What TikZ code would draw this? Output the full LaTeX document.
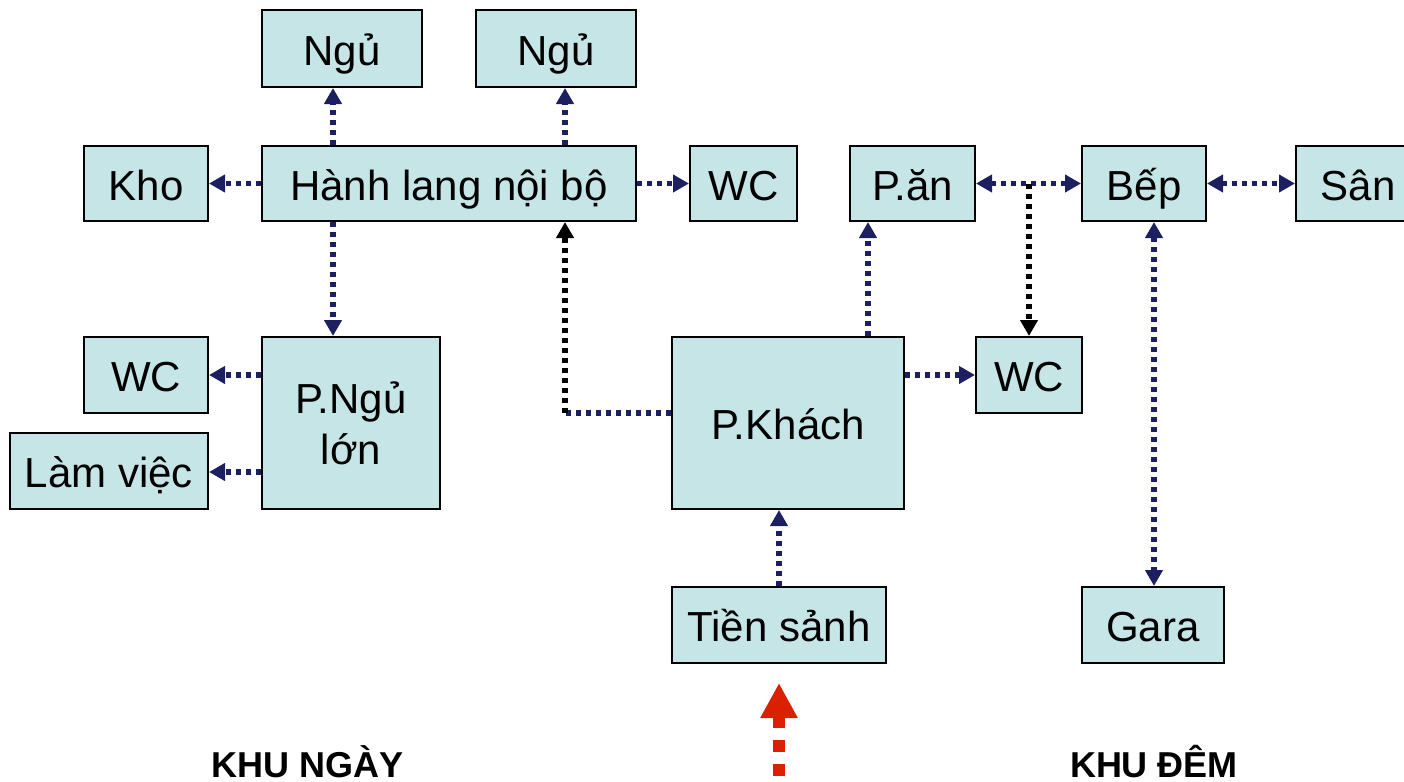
\documentclass[tikz,border=0pt]{standalone}
\usepackage{fontspec}
\setmainfont{Liberation Sans}
\usetikzlibrary{arrows.meta}
\definecolor{boxfill}{RGB}{197,229,231}
\definecolor{navy}{RGB}{28,32,96}
\definecolor{entryred}{RGB}{218,32,0}
\tikzset{
  room/.style={draw=black, line width=1pt, fill=boxfill, inner sep=0pt,
    font=\fontsize{21pt}{25.5pt}\selectfont, align=center},
  oneline/.style={room, text height=16.5pt, text depth=0pt},
  conn/.style={draw=navy, line width=2.6pt, dash pattern=on 2.5pt off 2.5pt,
    -{Triangle[width=8.5pt,length=8pt]}},
  conntwo/.style={conn, {Triangle[width=8.5pt,length=8pt]}-{Triangle[width=8.5pt,length=8pt]}},
  plain/.style={draw=navy, line width=2.6pt, dash pattern=on 2.5pt off 2.5pt},
  blackconn/.style={conn, draw=black},
  zone/.style={font=\fontsize{18pt}{18pt}\selectfont\bfseries, anchor=base, inner sep=0pt},
}
\begin{document}
\begin{tikzpicture}[x=0.5pt,y=-0.5pt]
\clip (0,0) rectangle (1404,782);
\fill[white] (0,0) rectangle (1404,782);
% rooms
\node[oneline, minimum width=80pt, minimum height=38.5pt] (ngu1) at (342,48.5) {Ngủ};
\node[oneline, minimum width=80pt, minimum height=38.5pt] (ngu2) at (556,48.5) {Ngủ};
\node[oneline, minimum width=62pt, minimum height=37.5pt] (kho) at (146,183.5) {Kho};
\node[oneline, minimum width=187pt, minimum height=37.5pt] (hl) at (449,183.5) {Hành lang nội bộ};
\node[oneline, minimum width=53.5pt, minimum height=37.5pt] (wc1) at (743.5,183.5) {WC};
\node[oneline, minimum width=62.5pt, minimum height=37.5pt] (pan) at (912.5,183.5) {P.ăn};
\node[oneline, minimum width=62pt, minimum height=37.5pt] (bep) at (1144,183.5) {Bếp};
\node[oneline, minimum width=62pt, minimum height=37.5pt] (san) at (1358,183.5) {Sân};
\node[oneline, minimum width=62pt, minimum height=38pt] (wc2) at (146,375) {WC};
\node[room, minimum width=89pt, minimum height=86pt] (pnl) at (351,423) {P.Ngủ\\lớn};
\node[oneline, minimum width=99pt, minimum height=38pt] (lv) at (109,471) {Làm việc};
\node[oneline, minimum width=116pt, minimum height=86pt] (pk) at (788,423) {P.Khách};
\node[oneline, minimum width=53pt, minimum height=38pt] (wc3) at (1029,375) {WC};
\node[oneline, minimum width=107pt, minimum height=38pt] (ts) at (779,625) {Tiền sảnh};
\node[oneline, minimum width=71pt, minimum height=38pt] (gara) at (1153,625) {Gara};
% helper coordinates
\coordinate (xa) at (333,0);
\coordinate (xb) at (565,0);
\coordinate (xc) at (868,0);
\coordinate (xg) at (1154,0);
\coordinate (yk) at (0,413);
\coordinate (yl) at (0,472);
\coordinate (corner) at (565,413);
\coordinate (junc) at (1029,184);
% connectors
\draw[conn] (hl.north -| xa) -- (ngu1.south -| xa);
\draw[conn] (hl.north -| xb) -- (ngu2.south -| xb);
\draw[conn] (hl.west) -- (kho.east);
\draw[conn] (hl.east) -- (wc1.west);
\draw[conn] (hl.south -| xa) -- (pnl.north -| xa);
\draw[conn] (pnl.west |- wc2) -- (wc2.east);
\draw[conn] (pnl.west |- yl) -- (lv.east |- yl);
\draw[plain] (pk.west |- yk) -- (corner);
\draw[blackconn] (corner) -- (hl.south -| xb);
\draw[conn] (pk.north -| xc) -- (pan.south -| xc);
\draw[conn] (pk.east |- wc3) -- (wc3.west);
\draw[conn] (ts.north) -- (ts.north |- pk.south);
\draw[conntwo] (pan.east) -- (bep.west);
\draw[blackconn] (junc) -- (wc3.north);
\draw[conntwo] (bep.east) -- (san.west);
\draw[conntwo] (bep.south -| xg) -- (gara.north -| xg);
% entrance arrow
\coordinate (entry) at (779,800);
\coordinate (entrytip) at (779,683);
\draw[draw=entryred, line width=6pt, dash pattern=on 6pt off 6pt,
  -{Triangle[width=17.5pt,length=17.5pt]}, entryred] (entry) -- (entrytip);
% zone labels
\node[zone] (day) at (308,777) {KHU NGÀY};
\node[zone] (night) at (1154,777) {KHU ĐÊM};
\end{tikzpicture}
\end{document}
